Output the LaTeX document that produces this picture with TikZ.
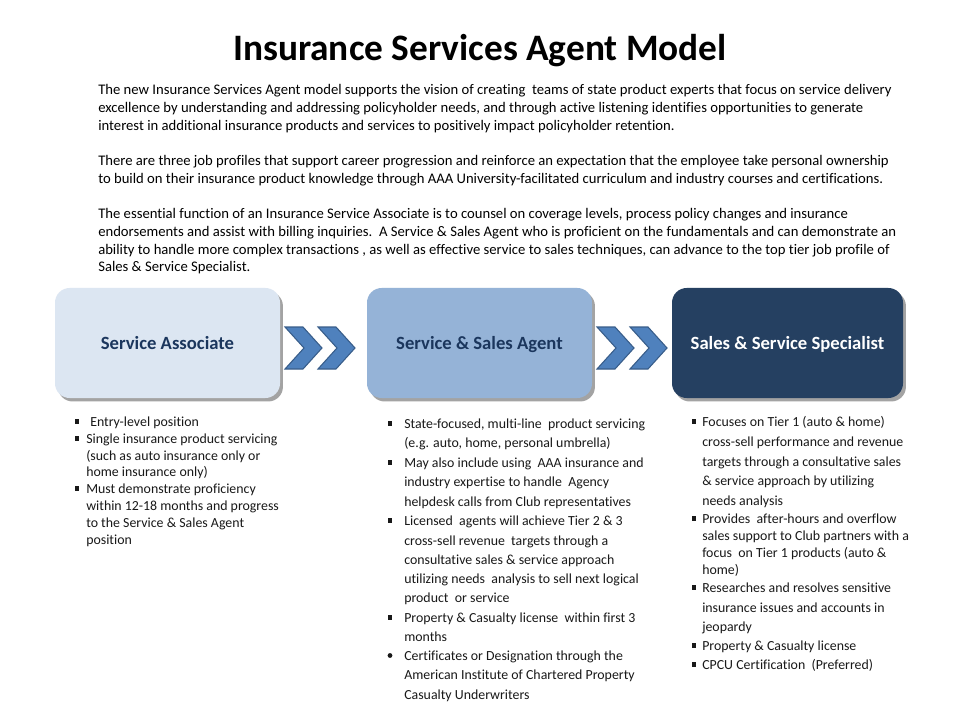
\documentclass[tikz,border=0pt]{standalone}
\usepackage{fontspec}
\setmainfont{Carlito}[Ligatures=NoCommon]
\usetikzlibrary{shadows}
\definecolor{boxA}{HTML}{DCE6F2}
\definecolor{boxB}{HTML}{95B3D7}
\definecolor{boxC}{HTML}{254061}
\definecolor{navy}{HTML}{1B365D}
\definecolor{chevfill}{HTML}{4F81BD}
\definecolor{chevline}{HTML}{385D8A}
\tikzset{
  rolebox/.style={rounded corners=11pt, minimum height=82.5pt, inner sep=0pt,
    text height=12pt, text depth=2pt,
    font=\bfseries\fontsize{14}{16}\selectfont,
    drop shadow={shadow xshift=2.2pt, shadow yshift=-2.6pt, opacity=0.45, fill=black!80}},
  paratext/.style={anchor=base west, inner sep=0pt, font=\fontsize{11}{13}\selectfont},
  bultext/.style={anchor=base west, inner sep=0pt, font=\fontsize{10.4}{12}\selectfont, text=black!90},
  sqbullet/.style={fill=black!90, minimum size=3.1pt, inner sep=0pt},
  rdbullet/.style={circle, fill=black!90, minimum size=3.6pt, inner sep=0pt},
  chev/.pic={\draw[fill=chevfill, draw=chevline, line width=0.8pt, line join=miter]
     (0,0) -- (18,0) -- (37,21) -- (18,42) -- (0,42) -- (19,21) -- cycle;},
}
\newcommand\pline[3]{\node[paratext] (#1) at (98,#2) {#3};}
\newcommand\bline[4]{\node[bultext] (#1) at (#2) {#4};}
\begin{document}
\begin{tikzpicture}[x=0.75pt,y=-0.75pt]
\useasboundingbox[fill=white] (0,0) rectangle (960,720);

\node[font=\bfseries\fontsize{28}{32}\selectfont, anchor=base, inner sep=0pt] (title) at (480,60.5) {Insurance Services Agent Model};

\pline{p1}{94.5}{The new Insurance Services Agent model supports the vision of creating\ \ teams of state product experts that focus on service delivery}
\pline{p2}{112.5}{excellence by understanding and addressing policyholder needs, and through active listening identifies opportunities to generate}
\pline{p3}{130.5}{interest in additional insurance products and services to positively impact policyholder retention.}
\pline{p4}{165.5}{There are three job profiles that support career progression and reinforce an expectation that the employee take personal ownership}
\pline{p5}{183.5}{to build on their insurance product knowledge through AAA University-facilitated curriculum and industry courses and certifications.}
\pline{p6}{218.5}{The essential function of an Insurance Service Associate is to counsel on coverage levels, process policy changes and insurance}
\pline{p7}{236.5}{endorsements and assist with billing inquiries.\ \ A Service \& Sales Agent who is proficient on the fundamentals and can demonstrate an}
\pline{p8}{254.5}{ability to handle more complex transactions , as well as effective service to sales techniques, can advance to the top tier job profile of}
\pline{p9}{271.5}{Sales \& Service Specialist.}

\node[rolebox, fill=boxA, text=navy, minimum width=168.75pt] (sa) at (167.5,343) {Service Associate};
\node[rolebox, fill=boxB, text=navy, minimum width=168.75pt] (ssa) at (479.5,343) {Service \& Sales Agent};
\node[rolebox, fill=boxC, text=white, minimum width=173.25pt] (sss) at (787.5,343) {Sales \& Service Specialist};

\pic at (285,327) {chev};
\pic at (318,327) {chev};
\pic at (597,327) {chev};
\pic at (630,327) {chev};

% column 1
\node[sqbullet] (b11) at (77,421.5) {};
\node[sqbullet] (b12) at (77,438.5) {};
\node[sqbullet] (b13) at (77,488.5) {};
\bline{c11}{90,426}{}{Entry-level position}
\bline{c12}{86,443}{}{Single insurance product servicing}
\bline{c13}{86,460}{}{(such as auto insurance only or}
\bline{c14}{86,476.5}{}{home insurance only)}
\bline{c15}{86,493.5}{}{Must demonstrate proficiency}
\bline{c16}{86,510.5}{}{within 12-18 months and progress}
\bline{c17}{86,527}{}{to the Service \& Sales Agent}
\bline{c18}{86,544}{}{position}

% column 2
\node[sqbullet] (b21) at (390,423.5) {};
\node[sqbullet] (b22) at (390,462.5) {};
\node[sqbullet] (b23) at (390,520.5) {};
\node[sqbullet] (b24) at (390,617.5) {};
\node[rdbullet] (b25) at (390,655.5) {};
\bline{c21}{404,428}{}{State-focused, multi-line\ \ product servicing}
\bline{c22}{404,447.5}{}{(e.g. auto, home, personal umbrella)}
\bline{c23}{404,467}{}{May also include using\ \ AAA insurance and}
\bline{c24}{404,486.5}{}{industry expertise to handle\ \ Agency}
\bline{c25}{404,506}{}{helpdesk calls from Club representatives}
\bline{c26}{404,525}{}{Licensed\ \ agents will achieve Tier 2 \& 3}
\bline{c27}{404,545}{}{cross-sell revenue\ \ targets through a}
\bline{c28}{404,564}{}{consultative sales \& service approach}
\bline{c29}{404,583}{}{utilizing needs\ \ analysis to sell next logical}
\bline{c210}{404,602.5}{}{product\ \ or service}
\bline{c211}{404,622}{}{Property \& Casualty license\ \ within first 3}
\bline{c212}{404,641}{}{months}
\bline{c213}{404,660}{}{Certificates or Designation through the}
\bline{c214}{404,679.5}{}{American Institute of Chartered Property}
\bline{c215}{404,699}{}{Casualty Underwriters}

% column 3
\node[sqbullet] (b31) at (694,421.5) {};
\node[sqbullet] (b32) at (694,518.5) {};
\node[sqbullet] (b33) at (694,587.5) {};
\node[sqbullet] (b34) at (694,645.5) {};
\node[sqbullet] (b35) at (694,664.5) {};
\bline{c31}{702,426}{}{Focuses on Tier 1 (auto \& home)}
\bline{c32}{702,446}{}{cross-sell performance and revenue}
\bline{c33}{702,466}{}{targets through a consultative sales}
\bline{c34}{702,485}{}{\& service approach by utilizing}
\bline{c35}{702,505}{}{needs analysis}
\bline{c36}{702,523}{}{Provides\ \ after-hours and overflow}
\bline{c37}{702,540}{}{sales support to Club partners with a}
\bline{c38}{702,557}{}{focus\ \ on Tier 1 products (auto \&}
\bline{c39}{702,574}{}{home)}
\bline{c310}{702,592}{}{Researches and resolves sensitive}
\bline{c311}{702,612}{}{insurance issues and accounts in}
\bline{c312}{702,631}{}{jeopardy}
\bline{c313}{702,650}{}{Property \& Casualty license}
\bline{c314}{702,669}{}{CPCU Certification\ \ (Preferred)}
\end{tikzpicture}
\end{document}
